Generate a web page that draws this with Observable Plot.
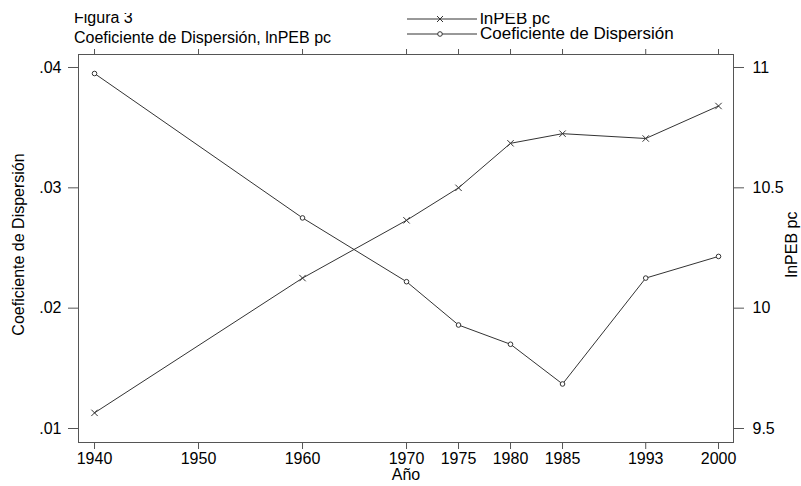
<!DOCTYPE html>
<html>
<head>
<meta charset="utf-8">
<script src="https://cdn.jsdelivr.net/npm/d3@7"></script>
<script src="https://cdn.jsdelivr.net/npm/@observablehq/plot@0.6"></script>
<style>
  html, body { margin: 0; padding: 0; background: #fff; }
  #wrap { position: relative; width: 801px; height: 486px; overflow: hidden; font-family: "Liberation Sans", Arial, sans-serif; color: #000; }
  #head { position: absolute; left: 0; top: 13px; width: 801px; height: 40px; overflow: hidden; }
  #head svg { position: absolute; left: 0; top: -13px; }
</style>
</head>
<body>
<div id="wrap">
  <div id="chart"></div>
  <div id="head"><svg id="headsvg" width="801" height="53"></svg></div>
</div>
<script>
const years = [1940, 1960, 1970, 1975, 1980, 1985, 1993, 2000];
const coef = [0.0395, 0.0275, 0.0222, 0.0186, 0.0170, 0.0137, 0.0225, 0.0243];
const lnpeb = [9.565, 10.125, 10.365, 10.50, 10.685, 10.725, 10.705, 10.84];
const xTicks = [1940, 1950, 1960, 1970, 1975, 1980, 1985, 1993, 2000];
const leftTicks = [0.01, 0.02, 0.03, 0.04];
const rightTicks = [9.5, 10, 10.5, 11];
const seriesNames = ["lnPEB pc", "Coeficiente de Dispersión"];
const titleLines = ["Figura 3", "Coeficiente de Dispersión, lnPEB pc"];
const xLabel = "Año";

// map right-axis (lnPEB) values onto the left scale
const toLeft = v => 0.01 + (v - 9.5) * 0.02;
const fromLeft = d => +(9.5 + (d - 0.01) / 0.02).toFixed(2);

const coefData = years.map((y, i) => ({year: y, value: coef[i]}));
const lnData = years.map((y, i) => ({year: y, value: toLeft(lnpeb[i])}));

const lineColor = "#333";
const axisColor = "#555";
const font = "'Liberation Sans', Arial, sans-serif";

const chart = Plot.plot({
  width: 801,
  height: 486,
  marginLeft: 78,
  marginRight: 68,
  marginTop: 54,
  marginBottom: 44,
  style: {fontFamily: font, fontSize: "16px", color: "#000", background: "transparent", overflow: "visible"},
  x: {domain: [1938.46, 2001.44]},
  y: {domain: [0.008837, 0.04108]},
  marks: [
    Plot.frame({stroke: axisColor}),
    Plot.axisX({ticks: xTicks, tickFormat: d => String(d), tickSize: 7, tickPadding: 3, stroke: axisColor, fill: "#000", fontSize: 16, label: null}),
    Plot.axisX({anchor: "top", ticks: xTicks, tickFormat: () => "", tickSize: 6, stroke: axisColor, label: null}),
    Plot.axisY({ticks: leftTicks, tickFormat: d => d.toFixed(2).replace(/^0/, ""), tickSize: 10, tickPadding: 7, stroke: axisColor, fill: "#000", fontSize: 16, label: null}),
    Plot.axisY({anchor: "right", ticks: rightTicks.map(toLeft), tickFormat: d => String(fromLeft(d)), tickSize: 10, tickPadding: 9, stroke: axisColor, fill: "#000", fontSize: 16, label: null}),
    Plot.text([xLabel], {frameAnchor: "bottom", dy: 37, fontSize: 16, textAnchor: "middle"}),
    Plot.text([seriesNames[1]], {frameAnchor: "left", dx: -60, dy: -4, rotate: -90, fontSize: 16, textAnchor: "middle"}),
    Plot.text([seriesNames[0]], {frameAnchor: "right", dx: 58, dy: -4, rotate: -90, fontSize: 16, textAnchor: "middle"}),
    Plot.line(coefData, {x: "year", y: "value", stroke: lineColor, strokeWidth: 1}),
    Plot.line(lnData, {x: "year", y: "value", stroke: lineColor, strokeWidth: 1}),
    Plot.dot(coefData, {x: "year", y: "value", symbol: "circle", r: 2.3, stroke: lineColor, fill: "white", strokeWidth: 1}),
    Plot.dot(lnData, {x: "year", y: "value", symbol: "times", r: 3, stroke: lineColor, strokeWidth: 1})
  ]
});
document.getElementById("chart").appendChild(chart);

// title + legend (clipped at the top like the reference)
const hs = d3.select("#headsvg");
hs.append("text").attr("x", 74).attr("y", 23).attr("font-family", font).attr("font-size", 16).attr("fill", "#000").text(titleLines[0]);
hs.append("text").attr("x", 74).attr("y", 43).attr("font-family", font).attr("font-size", 16).attr("fill", "#000").text(titleLines[1]);

const rows = [
  {name: seriesNames[0], y: 19, sym: "times"},
  {name: seriesNames[1], y: 34, sym: "circle"}
];
rows.forEach(r => {
  hs.append("line").attr("x1", 407).attr("x2", 477).attr("y1", r.y).attr("y2", r.y)
    .attr("stroke", lineColor).attr("stroke-width", 1);
  if (r.sym === "circle") {
    hs.append("circle").attr("cx", 440).attr("cy", r.y).attr("r", 2.3)
      .attr("fill", "white").attr("stroke", lineColor);
  } else {
    hs.append("path").attr("d", `M437,${r.y - 3}L443,${r.y + 3}M437,${r.y + 3}L443,${r.y - 3}`)
      .attr("stroke", lineColor);
  }
  hs.append("text").attr("x", 480).attr("y", r.y + 4.5)
    .attr("font-family", font).attr("font-size", 17)
    .attr("fill", "#000").text(r.name);
});
</script>
</body>
</html>
